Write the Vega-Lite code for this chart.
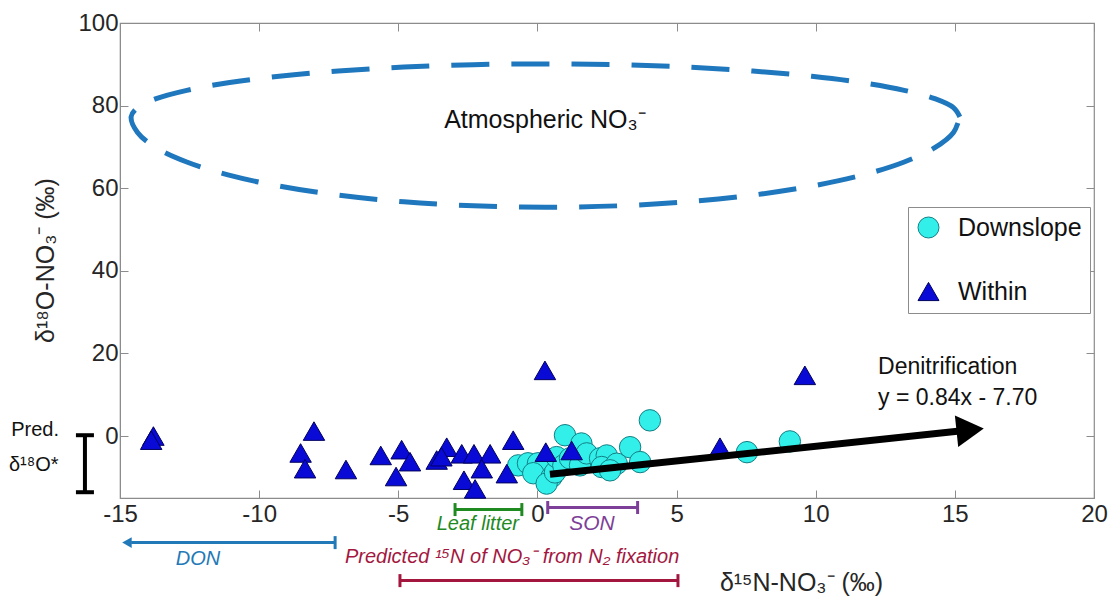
{
  "$schema": "https://vega.github.io/schema/vega-lite/v6.json",
  "width": 974,
  "height": 475,
  "autosize": {"type": "none"},
  "padding": {"left": 120, "top": 23, "right": 17, "bottom": 105},
  "config": {
    "font": "Liberation Sans",
    "view": {"stroke": "#8c8c8c", "strokeWidth": 1.2},
    "axis": {"disable": true, "grid": false, "domainColor": "#8c8c8c", "tickColor": "#8c8c8c", "labelColor": "#262626", "labelFontSize": 24, "titleFontSize": 25, "titleFontWeight": "normal", "titleColor": "#262626", "labelFont": "Liberation Sans", "titleFont": "Liberation Sans", "labelFlush": false, "labelOverlap": false}
  },
  "resolve": {"axis": {"x": "independent", "y": "independent"}},
  "datasets": {
    "points": [
      {"site": "Downslope", "x": -0.69, "y": -7.1},
      {"site": "Downslope", "x": -0.34, "y": -6.6},
      {"site": "Downslope", "x": 0.02, "y": -6.6},
      {"site": "Downslope", "x": -0.15, "y": -9.0},
      {"site": "Downslope", "x": 0.51, "y": -9.9},
      {"site": "Downslope", "x": 0.33, "y": -11.5},
      {"site": "Downslope", "x": 0.63, "y": -8.8},
      {"site": "Downslope", "x": 0.99, "y": 0.2},
      {"site": "Downslope", "x": 1.58, "y": -1.8},
      {"site": "Downslope", "x": 1.94, "y": -5.5},
      {"site": "Downslope", "x": 0.69, "y": -5.1},
      {"site": "Downslope", "x": 0.93, "y": -7.1},
      {"site": "Downslope", "x": 1.17, "y": -5.4},
      {"site": "Downslope", "x": 1.53, "y": -7.1},
      {"site": "Downslope", "x": 1.77, "y": -4.2},
      {"site": "Downslope", "x": 2.25, "y": -5.4},
      {"site": "Downslope", "x": 2.49, "y": -4.7},
      {"site": "Downslope", "x": 2.31, "y": -7.5},
      {"site": "Downslope", "x": 2.85, "y": -6.7},
      {"site": "Downslope", "x": 2.61, "y": -8.3},
      {"site": "Downslope", "x": 3.33, "y": -2.7},
      {"site": "Downslope", "x": 3.69, "y": -6.3},
      {"site": "Downslope", "x": 4.04, "y": 3.8},
      {"site": "Downslope", "x": 7.53, "y": -3.9},
      {"site": "Downslope", "x": 9.07, "y": -1.3},
      {"site": "Within", "x": -13.8, "y": 0.0},
      {"site": "Within", "x": -13.88, "y": -1.0},
      {"site": "Within", "x": -8.03, "y": 1.2},
      {"site": "Within", "x": -8.51, "y": -4.1},
      {"site": "Within", "x": -8.35, "y": -7.9},
      {"site": "Within", "x": -6.88, "y": -8.1},
      {"site": "Within", "x": -5.63, "y": -4.7},
      {"site": "Within", "x": -4.88, "y": -3.3},
      {"site": "Within", "x": -5.08, "y": -9.8},
      {"site": "Within", "x": -4.58, "y": -6.2},
      {"site": "Within", "x": -3.26, "y": -2.7},
      {"site": "Within", "x": -3.62, "y": -5.8},
      {"site": "Within", "x": -3.45, "y": -5.0},
      {"site": "Within", "x": -2.72, "y": -4.3},
      {"site": "Within", "x": -2.28, "y": -4.3},
      {"site": "Within", "x": -1.7, "y": -4.3},
      {"site": "Within", "x": -2.0, "y": -7.9},
      {"site": "Within", "x": -2.64, "y": -10.7},
      {"site": "Within", "x": -2.24, "y": -12.8},
      {"site": "Within", "x": -1.1, "y": -9.1},
      {"site": "Within", "x": -0.87, "y": -1.0},
      {"site": "Within", "x": 0.3, "y": -3.9},
      {"site": "Within", "x": 1.23, "y": -3.5},
      {"site": "Within", "x": 0.27, "y": 15.9},
      {"site": "Within", "x": 9.61, "y": 14.7},
      {"site": "Within", "x": 6.56, "y": -2.7}
    ],
    "ellipse": [
      {"order": 0, "x": 15.18, "y": 77.3},
      {"order": 1, "x": 14.95, "y": 79.52},
      {"order": 2, "x": 14.28, "y": 81.68},
      {"order": 3, "x": 13.18, "y": 83.7},
      {"order": 4, "x": 11.7, "y": 85.53},
      {"order": 5, "x": 9.86, "y": 87.1},
      {"order": 6, "x": 7.74, "y": 88.38},
      {"order": 7, "x": 5.38, "y": 89.33},
      {"order": 8, "x": 2.88, "y": 89.91},
      {"order": 9, "x": 0.29, "y": 90.1},
      {"order": 10, "x": -2.3, "y": 89.91},
      {"order": 11, "x": -4.8, "y": 89.33},
      {"order": 12, "x": -7.16, "y": 88.38},
      {"order": 13, "x": -9.28, "y": 87.1},
      {"order": 14, "x": -11.12, "y": 85.53},
      {"order": 15, "x": -12.6, "y": 83.7},
      {"order": 16, "x": -13.7, "y": 81.68},
      {"order": 17, "x": -14.37, "y": 79.52},
      {"order": 18, "x": -14.6, "y": 77.3},
      {"order": 19, "x": -14.37, "y": 73.5},
      {"order": 20, "x": -13.7, "y": 69.81},
      {"order": 21, "x": -12.6, "y": 66.35},
      {"order": 22, "x": -11.12, "y": 63.22},
      {"order": 23, "x": -9.28, "y": 60.52},
      {"order": 24, "x": -7.16, "y": 58.33},
      {"order": 25, "x": -4.8, "y": 56.72},
      {"order": 26, "x": -2.3, "y": 55.73},
      {"order": 27, "x": 0.29, "y": 55.4},
      {"order": 28, "x": 2.88, "y": 55.73},
      {"order": 29, "x": 5.38, "y": 56.72},
      {"order": 30, "x": 7.74, "y": 58.33},
      {"order": 31, "x": 9.86, "y": 60.52},
      {"order": 32, "x": 11.7, "y": 63.22},
      {"order": 33, "x": 13.18, "y": 66.35},
      {"order": 34, "x": 14.28, "y": 69.81},
      {"order": 35, "x": 14.95, "y": 73.5},
      {"order": 36, "x": 15.18, "y": 77.3}
    ],
    "segments": [
      {"name": "denit", "x": 0.45, "y": -9.25, "x2": 15.6, "y2": 1.5},
      {"name": "leaf", "x": -2.96, "y": -17.8, "x2": -0.56, "y2": -17.8},
      {"name": "son", "x": 0.37, "y": -17.3, "x2": 3.6, "y2": -17.3},
      {"name": "don", "x": -7.27, "y": -25.8, "x2": -14.6, "y2": -25.8},
      {"name": "fix", "x": -4.94, "y": -35.0, "x2": 5.05, "y2": -35.0},
      {"name": "pred", "x": -16.26, "y": 0.2, "x2": -16.26, "y2": -13.6}
    ],
    "caps": [
      {"name": "leaf", "x": -2.96, "y": -17.8},
      {"name": "leaf", "x": -0.56, "y": -17.8},
      {"name": "son", "x": 0.37, "y": -17.3},
      {"name": "son", "x": 3.6, "y": -17.3},
      {"name": "don", "x": -7.27, "y": -25.8},
      {"name": "fix", "x": -4.94, "y": -35.0},
      {"name": "fix", "x": 5.05, "y": -35.0},
      {"name": "pred", "x": -16.26, "y": 0.2},
      {"name": "pred", "x": -16.26, "y": -13.6}
    ],
    "heads": [
      {"name": "denit", "x": 15.55, "y": 1.5},
      {"name": "don", "x": -14.75, "y": -25.8}
    ],
    "labels": [
      {"name": "atm", "text": "Atmospheric NO₃⁻", "x": 0.27, "y": 76.6},
      {"name": "black", "text": "Denitrification", "x": 12.24, "y": 16.7},
      {"name": "black", "text": "y = 0.84x - 7.70", "x": 12.24, "y": 9.2},
      {"name": "predtext", "text": "Pred.", "x": -18.05, "y": 1.4},
      {"name": "predtext", "text": "δ¹⁸O*", "x": -18.1, "y": -7.1},
      {"name": "leaf", "text": "Leaf litter", "x": -2.14, "y": -21.4},
      {"name": "son", "text": "SON", "x": 1.96, "y": -21.2},
      {"name": "don", "text": "DON", "x": -12.2, "y": -29.7},
      {"name": "fix", "text": "Predicted ¹⁵N of NO₃⁻ from N₂ fixation", "x": -0.91, "y": -29.4}
    ]
  },
  "layer": [
    {
      "data": {"name": "ellipse"},
      "mark": {"type": "line", "color": "#1f77bd", "strokeWidth": 5, "strokeDash": [38, 22], "interpolate": "catmull-rom"},
      "encoding": {
        "x": {"field": "x", "type": "quantitative", "scale": {"domain": [-15, 20], "nice": false, "zero": false},
          "axis": {"disable": false, "orient": "top", "values": [-15, -10, -5, 0, 5, 10, 15, 20], "tickSize": -8, "labels": false, "title": null, "domain": false}},
        "y": {"field": "y", "type": "quantitative", "scale": {"domain": [-15, 100], "nice": false, "zero": false},
          "axis": {"disable": false, "orient": "right", "values": [0, 20, 40, 60, 80, 100], "tickSize": -8, "labels": false, "title": null, "domain": false}},
        "order": {"field": "order", "type": "quantitative"}
      }
    },
    {
      "data": {"name": "points"},
      "mark": {"type": "point", "filled": true, "size": 460, "strokeWidth": 1, "opacity": 1},
      "encoding": {
        "x": {"field": "x", "type": "quantitative",
          "axis": {"disable": false, "orient": "bottom", "values": [-15, -10, -5, 0, 5, 10, 15, 20], "tickSize": -8, "labelPadding": 12, "labelExpr": "replace(datum.label, '−', '-')", "title": "δ¹⁵N-NO₃⁻ (‰)", "titleX": 681, "titleY": 92, "titleAlign": "center", "titleBaseline": "alphabetic"}},
        "y": {"field": "y", "type": "quantitative",
          "axis": {"disable": false, "orient": "left", "values": [0, 20, 40, 60, 80, 100], "tickSize": -8, "labelPadding": 10, "title": "δ¹⁸O-NO₃⁻ (‰)", "titleX": -75, "titleY": 237, "titleAngle": 270, "titleAlign": "center", "titleBaseline": "middle"}},
        "shape": {"field": "site", "type": "nominal", "scale": {"domain": ["Downslope", "Within"], "range": ["circle", "triangle-up"]},
          "legend": {"title": null, "orient": "none", "legendX": 788, "legendY": 184, "direction": "vertical", "padding": 8, "rowPadding": 38, "symbolSize": 440, "labelFontSize": 25, "labelColor": "#111", "labelOffset": 17, "strokeColor": "#8c8c8c", "fillColor": "white", "symbolStrokeWidth": 1, "labelFont": "Liberation Sans"}},
        "color": {"field": "site", "type": "nominal", "scale": {"domain": ["Downslope", "Within"], "range": ["#33efe9", "#0a0ad6"]}},
        "stroke": {"field": "site", "type": "nominal", "scale": {"domain": ["Downslope", "Within"], "range": ["#137f85", "#00005e"]}}
      }
    },
    {
      "data": {"name": "labels"},
      "transform": [{"filter": "datum.name == 'atm'"}],
      "mark": {"type": "text", "fontSize": 25, "color": "#111", "align": "center", "baseline": "middle"},
      "encoding": {"x": {"field": "x", "type": "quantitative"}, "y": {"field": "y", "type": "quantitative"}, "text": {"field": "text"}}
    },
    {
      "data": {"name": "labels"},
      "transform": [{"filter": "datum.name == 'black'"}],
      "mark": {"type": "text", "fontSize": 23, "color": "#111", "align": "left", "baseline": "middle"},
      "encoding": {"x": {"field": "x", "type": "quantitative"}, "y": {"field": "y", "type": "quantitative"}, "text": {"field": "text"}}
    },
    {
      "data": {"name": "labels"},
      "transform": [{"filter": "datum.name == 'predtext'"}],
      "mark": {"type": "text", "fontSize": 20, "color": "#111", "align": "center", "baseline": "middle"},
      "encoding": {"x": {"field": "x", "type": "quantitative"}, "y": {"field": "y", "type": "quantitative"}, "text": {"field": "text"}}
    },
    {
      "data": {"name": "segments"},
      "transform": [{"filter": "datum.name == 'denit'"}],
      "mark": {"type": "rule", "color": "#000", "strokeWidth": 7},
      "encoding": {"x": {"field": "x", "type": "quantitative"}, "y": {"field": "y", "type": "quantitative"}, "x2": {"field": "x2"}, "y2": {"field": "y2"}}
    },
    {
      "data": {"name": "heads"},
      "transform": [{"filter": "datum.name == 'denit'"}],
      "mark": {"type": "point", "shape": "triangle-right", "filled": true, "color": "#000", "size": 1000, "angle": -6, "opacity": 1},
      "encoding": {"x": {"field": "x", "type": "quantitative"}, "y": {"field": "y", "type": "quantitative"}}
    },
    {
      "data": {"name": "segments"},
      "transform": [{"filter": "datum.name == 'leaf'"}],
      "mark": {"type": "rule", "color": "#1f8a1f", "strokeWidth": 3},
      "encoding": {"x": {"field": "x", "type": "quantitative"}, "y": {"field": "y", "type": "quantitative"}, "x2": {"field": "x2"}, "y2": {"field": "y2"}}
    },
    {
      "data": {"name": "caps"},
      "transform": [{"filter": "datum.name == 'leaf'"}],
      "mark": {"type": "tick", "orient": "vertical", "color": "#1f8a1f", "size": 13, "thickness": 3, "opacity": 1},
      "encoding": {"x": {"field": "x", "type": "quantitative"}, "y": {"field": "y", "type": "quantitative"}}
    },
    {
      "data": {"name": "labels"},
      "transform": [{"filter": "datum.name == 'leaf'"}],
      "mark": {"type": "text", "fontSize": 20, "fontStyle": "italic", "color": "#1f8a1f", "align": "center", "baseline": "middle"},
      "encoding": {"x": {"field": "x", "type": "quantitative"}, "y": {"field": "y", "type": "quantitative"}, "text": {"field": "text"}}
    },
    {
      "data": {"name": "segments"},
      "transform": [{"filter": "datum.name == 'son'"}],
      "mark": {"type": "rule", "color": "#7e3f98", "strokeWidth": 3},
      "encoding": {"x": {"field": "x", "type": "quantitative"}, "y": {"field": "y", "type": "quantitative"}, "x2": {"field": "x2"}, "y2": {"field": "y2"}}
    },
    {
      "data": {"name": "caps"},
      "transform": [{"filter": "datum.name == 'son'"}],
      "mark": {"type": "tick", "orient": "vertical", "color": "#7e3f98", "size": 13, "thickness": 3, "opacity": 1},
      "encoding": {"x": {"field": "x", "type": "quantitative"}, "y": {"field": "y", "type": "quantitative"}}
    },
    {
      "data": {"name": "labels"},
      "transform": [{"filter": "datum.name == 'son'"}],
      "mark": {"type": "text", "fontSize": 21, "fontStyle": "italic", "color": "#7e3f98", "align": "center", "baseline": "middle"},
      "encoding": {"x": {"field": "x", "type": "quantitative"}, "y": {"field": "y", "type": "quantitative"}, "text": {"field": "text"}}
    },
    {
      "data": {"name": "segments"},
      "transform": [{"filter": "datum.name == 'don'"}],
      "mark": {"type": "rule", "color": "#2279b8", "strokeWidth": 3},
      "encoding": {"x": {"field": "x", "type": "quantitative"}, "y": {"field": "y", "type": "quantitative"}, "x2": {"field": "x2"}, "y2": {"field": "y2"}}
    },
    {
      "data": {"name": "caps"},
      "transform": [{"filter": "datum.name == 'don'"}],
      "mark": {"type": "tick", "orient": "vertical", "color": "#2279b8", "size": 13, "thickness": 3, "opacity": 1},
      "encoding": {"x": {"field": "x", "type": "quantitative"}, "y": {"field": "y", "type": "quantitative"}}
    },
    {
      "data": {"name": "heads"},
      "transform": [{"filter": "datum.name == 'don'"}],
      "mark": {"type": "point", "shape": "triangle-left", "filled": true, "color": "#2279b8", "size": 120, "opacity": 1},
      "encoding": {"x": {"field": "x", "type": "quantitative"}, "y": {"field": "y", "type": "quantitative"}}
    },
    {
      "data": {"name": "labels"},
      "transform": [{"filter": "datum.name == 'don'"}],
      "mark": {"type": "text", "fontSize": 20, "fontStyle": "italic", "color": "#2279b8", "align": "center", "baseline": "middle"},
      "encoding": {"x": {"field": "x", "type": "quantitative"}, "y": {"field": "y", "type": "quantitative"}, "text": {"field": "text"}}
    },
    {
      "data": {"name": "segments"},
      "transform": [{"filter": "datum.name == 'fix'"}],
      "mark": {"type": "rule", "color": "#a3173f", "strokeWidth": 3},
      "encoding": {"x": {"field": "x", "type": "quantitative"}, "y": {"field": "y", "type": "quantitative"}, "x2": {"field": "x2"}, "y2": {"field": "y2"}}
    },
    {
      "data": {"name": "caps"},
      "transform": [{"filter": "datum.name == 'fix'"}],
      "mark": {"type": "tick", "orient": "vertical", "color": "#a3173f", "size": 13, "thickness": 3, "opacity": 1},
      "encoding": {"x": {"field": "x", "type": "quantitative"}, "y": {"field": "y", "type": "quantitative"}}
    },
    {
      "data": {"name": "labels"},
      "transform": [{"filter": "datum.name == 'fix'"}],
      "mark": {"type": "text", "fontSize": 20, "fontStyle": "italic", "color": "#a3173f", "align": "center", "baseline": "middle"},
      "encoding": {"x": {"field": "x", "type": "quantitative"}, "y": {"field": "y", "type": "quantitative"}, "text": {"field": "text"}}
    },
    {
      "data": {"name": "segments"},
      "transform": [{"filter": "datum.name == 'pred'"}],
      "mark": {"type": "rule", "color": "#000", "strokeWidth": 4},
      "encoding": {"x": {"field": "x", "type": "quantitative"}, "y": {"field": "y", "type": "quantitative"}, "x2": {"field": "x2"}, "y2": {"field": "y2"}}
    },
    {
      "data": {"name": "caps"},
      "transform": [{"filter": "datum.name == 'pred'"}],
      "mark": {"type": "tick", "orient": "horizontal", "color": "#000", "size": 18, "thickness": 4, "opacity": 1},
      "encoding": {"x": {"field": "x", "type": "quantitative"}, "y": {"field": "y", "type": "quantitative"}}
    }
  ]
}
